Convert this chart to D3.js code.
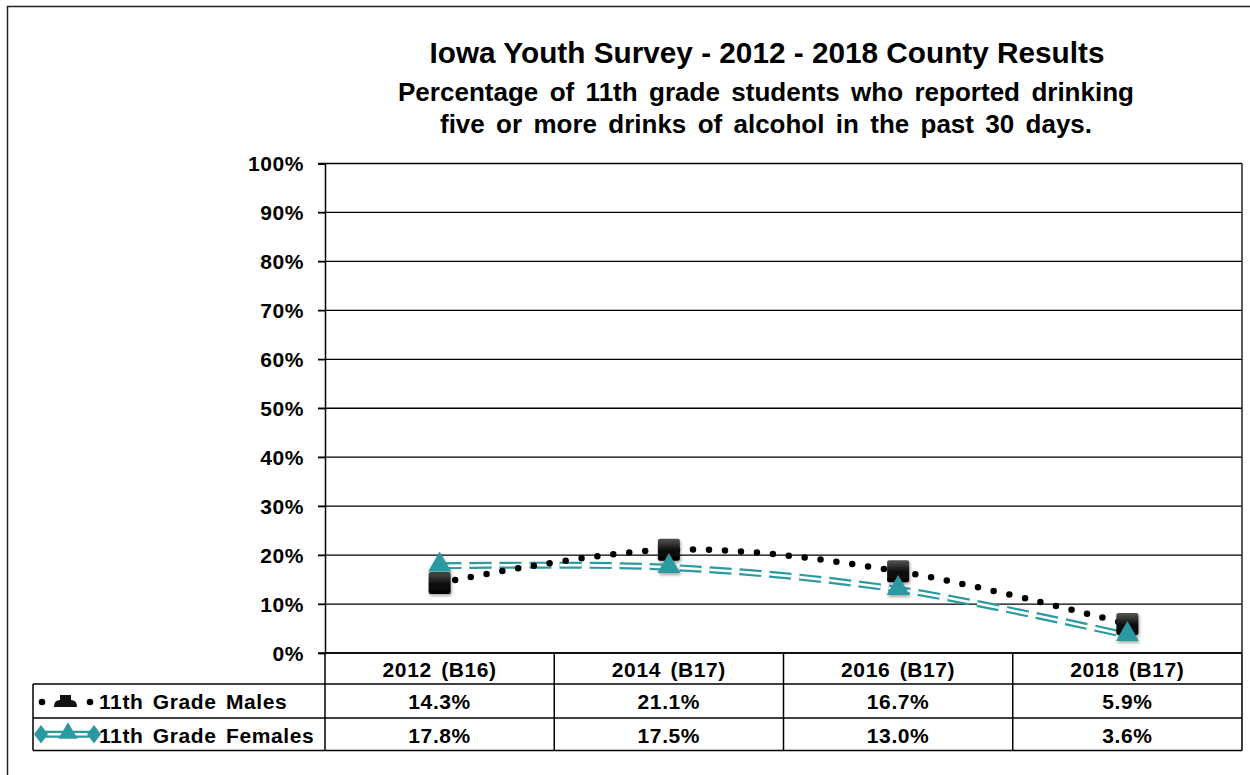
<!DOCTYPE html>
<html><head><meta charset="utf-8">
<script src="https://cdn.jsdelivr.net/npm/d3@7"></script>
<style>body{margin:0;background:#fff}svg{display:block}text{font-family:"Liberation Sans",Arial,sans-serif;font-weight:bold;fill:#000}
.t{font-size:21px;letter-spacing:0.6px;word-spacing:3px}</style>
</head><body><svg id="c" width="1250" height="775"></svg>
<script>
const categories = ["2012 (B16)", "2014 (B17)", "2016 (B17)", "2018 (B17)"];
const males = [14.3, 21.1, 16.7, 5.9];
const females = [17.8, 17.5, 13.0, 3.6];
const seriesNames = ["11th Grade Males", "11th Grade Females"];
const yTicks = [0,10,20,30,40,50,60,70,80,90,100];
const titleLines = ["Iowa Youth Survey - 2012 - 2018 County Results",
  "Percentage of 11th grade students who reported drinking",
  "five or more drinks of alcohol in the past 30 days."];

const svg = d3.select("#c");
const L = 325, R = 1242, T = 163.5, B = 653;
const teal = "#2A9AA0";

// outer frame
svg.append("path").attr("d","M7.5,780 L7.5,6.5 L1260,6.5").attr("fill","none").attr("stroke","#222").attr("stroke-width",1.5);

// titles
svg.append("text").attr("x",767).attr("y",63).attr("text-anchor","middle").style("font-size","30px")
  .attr("textLength",675).attr("lengthAdjust","spacingAndGlyphs").text(titleLines[0]);
svg.append("text").attr("x",766).attr("y",101).attr("text-anchor","middle").style("font-size","25px").style("word-spacing","4px")
  .attr("textLength",736).attr("lengthAdjust","spacingAndGlyphs").text(titleLines[1]);
svg.append("text").attr("x",766).attr("y",133).attr("text-anchor","middle").style("font-size","25px").style("word-spacing","4px")
  .attr("textLength",652).attr("lengthAdjust","spacingAndGlyphs").text(titleLines[2]);

const x = d3.scaleBand().domain(categories).range([L,R]);
const y = d3.scaleLinear().domain([0,100]).range([B,T]);

// grid
svg.append("g").selectAll("line").data(yTicks).join("line")
  .attr("x1",L-7).attr("x2",R).attr("y1",d=>y(d)).attr("y2",d=>y(d))
  .attr("stroke","#000").attr("stroke-width",1.3);
svg.append("line").attr("x1",R).attr("x2",R).attr("y1",T).attr("y2",B).attr("stroke","#222").attr("stroke-width",1.5);
// y axis
const yAxis = d3.axisLeft(y).tickValues(yTicks).tickSize(7).tickFormat(d=>d+"%");
const ga = svg.append("g").attr("transform",`translate(${L},0)`).call(yAxis);
ga.select(".domain").attr("stroke","#000").attr("stroke-width",1.5);
ga.selectAll(".tick line").attr("stroke","#000").attr("stroke-width",1.3);
ga.selectAll(".tick text").attr("class","t").attr("x",-21).attr("dy","0.35em")
  .style("font-family","'Liberation Sans',Arial").style("font-weight","bold").style("font-size","21px").attr("fill","#000");

// table
const rowsY = [653, 684, 718, 750.5];
const tbl = svg.append("g");
tbl.append("line").attr("x1",L).attr("x2",R).attr("y1",rowsY[0]).attr("y2",rowsY[0]).attr("stroke","#000").attr("stroke-width",1.5);
[1,2,3].forEach(i=>tbl.append("line").attr("x1",33).attr("x2",R).attr("y1",rowsY[i]).attr("y2",rowsY[i]).attr("stroke","#000").attr("stroke-width",1.5));
tbl.append("line").attr("x1",33).attr("x2",33).attr("y1",rowsY[1]).attr("y2",rowsY[3]).attr("stroke","#000").attr("stroke-width",1.5);
categories.concat(["end"]).forEach((c,i)=>{
  const xx = i<categories.length ? x(c) : R;
  tbl.append("line").attr("x1",xx).attr("x2",xx).attr("y1",rowsY[0]).attr("y2",rowsY[3]).attr("stroke","#000").attr("stroke-width",1.5);
});
tbl.selectAll("text.cat").data(categories).join("text").attr("class","t cat")
  .attr("x",d=>x(d)+x.bandwidth()/2).attr("y",(rowsY[0]+rowsY[1])/2+1).attr("dy","0.35em").attr("text-anchor","middle").text(d=>d);
tbl.selectAll("text.m").data(males).join("text").attr("class","t m")
  .attr("x",(d,i)=>x(categories[i])+x.bandwidth()/2).attr("y",(rowsY[1]+rowsY[2])/2+1).attr("dy","0.35em").attr("text-anchor","middle").text(d=>d.toFixed(1)+"%");
tbl.selectAll("text.f").data(females).join("text").attr("class","t f")
  .attr("x",(d,i)=>x(categories[i])+x.bandwidth()/2).attr("y",(rowsY[2]+rowsY[3])/2+1).attr("dy","0.35em").attr("text-anchor","middle").text(d=>d.toFixed(1)+"%");
tbl.append("text").attr("class","t").attr("x",99).attr("y",(rowsY[1]+rowsY[2])/2+1).attr("dy","0.35em").text(seriesNames[0]);
tbl.append("text").attr("class","t").attr("x",99).attr("y",(rowsY[2]+rowsY[3])/2+1).attr("dy","0.35em").text(seriesNames[1]);

// defs
const defs = svg.append("defs");
const gr = defs.append("linearGradient").attr("id","sq").attr("x1",0).attr("y1",0).attr("x2",0).attr("y2",1);
gr.append("stop").attr("offset","0").attr("stop-color","#555");
gr.append("stop").attr("offset","0.5").attr("stop-color","#111");
gr.append("stop").attr("offset","1").attr("stop-color","#000");
const f = defs.append("filter").attr("id","sh").attr("x","-50%").attr("y","-50%").attr("width","200%").attr("height","200%");
f.append("feDropShadow").attr("dx",1).attr("dy",2).attr("stdDeviation",1.5).attr("flood-color","#000").attr("flood-opacity",0.35);

const cx = i => x(categories[i]) + x.bandwidth()/2;
const line = d3.line().x((d,i)=>cx(i)).y(d=>y(d)).curve(d3.curveCatmullRom.alpha(0.5));

// females double line
svg.append("path").attr("d",line(females)).attr("fill","none").attr("stroke",teal).attr("stroke-width",7).attr("stroke-dasharray","22,8");
svg.append("path").attr("d",line(females)).attr("fill","none").attr("stroke","#fff").attr("stroke-width",2.6).attr("stroke-dasharray","22,8");
// males dotted
svg.append("path").attr("d",line(males)).attr("fill","none").attr("stroke","#000").attr("stroke-width",6.5).attr("stroke-linecap","round").attr("stroke-dasharray","0,16");

// markers
svg.append("g").selectAll("rect").data(males).join("rect")
  .attr("x",(d,i)=>cx(i)-11).attr("y",d=>y(d)-11).attr("width",22).attr("height",22).attr("rx",2)
  .attr("fill","url(#sq)").attr("filter","url(#sh)");
const tri = d3.symbol().type(d3.symbolTriangle).size(230);
svg.append("g").selectAll("path").data(females).join("path")
  .attr("d",tri).attr("transform",(d,i)=>`translate(${cx(i)},${y(d)-1})`).attr("fill",teal).attr("filter","url(#sh)");

// legend keys
const ly1 = (rowsY[1]+rowsY[2])/2, ly2 = (rowsY[2]+rowsY[3])/2;
[42, 90].forEach(xx=>svg.append("circle").attr("cx",xx).attr("cy",ly1+1).attr("r",3.3).attr("fill","#000"));
svg.append("path").attr("d",`M${54},${ly1+6} Q${54},${ly1-1} ${60},${ly1-1} L${60},${ly1-6} L${71},${ly1-6} L${71},${ly1-1} Q${77},${ly1-1} ${77},${ly1+6} Z`).attr("fill","#111");
svg.append("line").attr("x1",40).attr("x2",95).attr("y1",ly2).attr("y2",ly2).attr("stroke",teal).attr("stroke-width",7);
svg.append("line").attr("x1",47).attr("x2",89).attr("y1",ly2).attr("y2",ly2).attr("stroke","#fff").attr("stroke-width",2.4);
[41,94].forEach(xx=>svg.append("path").attr("d",d3.symbol().type(d3.symbolDiamond).size(100)).attr("transform",`translate(${xx},${ly2}) scale(1.3,1)`).attr("fill",teal));
svg.append("path").attr("d",d3.symbol().type(d3.symbolTriangle).size(160)).attr("transform",`translate(68,${ly2-1})`).attr("fill",teal);
</script></body></html>
